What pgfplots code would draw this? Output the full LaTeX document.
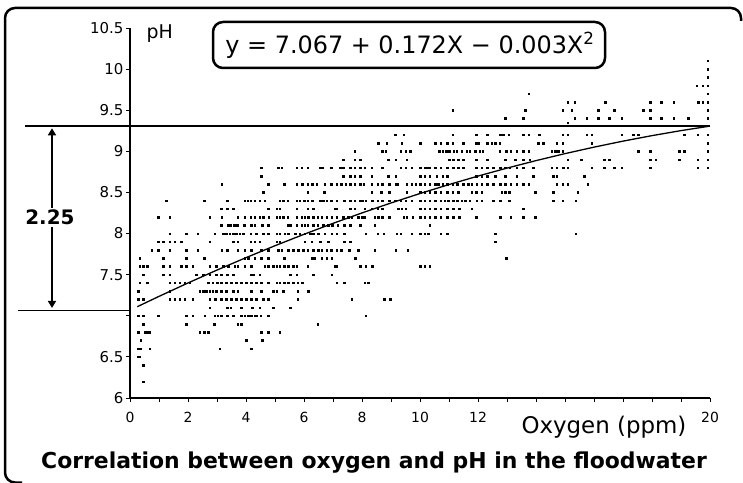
\documentclass[border=0pt]{standalone}
\usepackage{pgfplots}
\pgfplotsset{compat=1.18}
\usepackage{fontspec}
\setmainfont{DejaVu Sans}
\usetikzlibrary{arrows.meta}
\begin{document}
\begin{tikzpicture}
\useasboundingbox (0bp,0bp) rectangle (743bp,483bp);
\draw[line width=2.5bp, rounded corners=10bp] (22bp,0.5bp) -- (5bp,0.5bp) -- (5bp,475bp) -- (741bp,475bp) -- (741bp,462bp);
\begin{axis}[
  at={(130bp,85bp)}, anchor=south west,
  scale only axis, width=580bp, height=370bp,
  xmin=0, xmax=20, ymin=6, ymax=10.5,
  axis lines=left, axis line style={-, line width=1.2bp},
  clip=false,
  xtick={0,1,...,20},
  xticklabels={0,,2,,4,,6,,8,,10,,12,,,,,,,,20},
  ytick={6,6.5,7,7.5,8,8.5,9,9.5,10,10.5},
  yticklabels={6,6.5,,7.5,8,8.5,9,9.5,10,10.5},
  tick align=outside, major tick length=4bp,
  tick style={black, line width=0.8bp},
  yticklabel style={font=\fontsize{15}{15}\selectfont, xshift=1bp},
  xticklabel style={font=\fontsize{14}{14}\selectfont, yshift=-7bp},
]
\addplot[only marks, mark=square*, mark size=0.75bp, black] coordinates {
(4.53,8.8)(4.53,8.7)(3.17,8.6)(4.76,8.6)(4.59,8.5)
(1.25,8.4)(2.55,8.4)(3.36,8.4)(3.95,8.4)(4.05,8.4)(4.16,8.4)(4.30,8.4)(4.47,8.4)(4.64,8.4)
(3.15,8.3)(3.36,8.3)(3.55,8.3)(4.76,8.3)
(0.97,8.2)(1.37,8.2)(2.75,8.2)(3.17,8.2)(3.72,8.2)(3.95,8.2)(4.16,8.2)(4.30,8.2)(4.47,8.2)(4.59,8.2)(4.78,8.2)
(3.15,8.1)(3.38,8.1)(3.47,8.1)(3.59,8.1)(3.70,8.1)(3.93,8.1)(4.18,8.1)(4.30,8.1)(4.55,8.1)(4.76,8.1)
(1.37,8.0)(1.94,8.0)(2.34,8.0)(2.92,8.0)(3.21,8.0)(3.32,8.0)(3.44,8.0)(3.55,8.0)(3.67,8.0)(3.78,8.0)(3.90,8.0)(4.16,8.0)(4.36,8.0)(4.59,8.0)(4.76,8.0)
(0.97,7.9)(1.14,7.9)(1.37,7.9)(1.54,7.9)(1.77,7.9)(2.75,7.9)(3.55,7.9)(3.72,7.9)(4.16,7.9)(4.30,7.9)(4.47,7.9)
(0.74,7.8)(0.97,7.8)(1.37,7.8)(1.94,7.8)(2.34,7.8)(3.17,7.8)(3.36,7.8)(3.72,7.8)(3.95,7.8)(4.18,7.8)(4.53,7.8)(4.76,7.8)
(0.33,7.7)(1.14,7.7)(1.94,7.7)(2.55,7.7)(3.95,7.7)(4.07,7.7)(4.30,7.7)(4.53,7.7)(4.76,7.7)
(0.33,7.6)(0.45,7.6)(0.60,7.6)(1.14,7.6)(1.37,7.6)(1.77,7.6)(1.94,7.6)(2.17,7.6)(2.75,7.6)(2.98,7.6)(3.21,7.6)(3.38,7.6)(3.61,7.6)(3.72,7.6)(3.95,7.6)(4.18,7.6)(4.64,7.6)(4.76,7.6)(4.93,7.6)
(0.45,7.5)(1.14,7.5)(1.37,7.5)(2.29,7.5)(2.52,7.5)(2.75,7.5)(2.98,7.5)(3.15,7.5)(3.36,7.5)(3.55,7.5)(4.16,7.5)(4.24,7.5)(4.47,7.5)
(0.33,7.4)(0.60,7.4)(1.37,7.4)(1.54,7.4)(1.71,7.4)(1.89,7.4)(2.06,7.4)(2.69,7.4)(2.86,7.4)(3.01,7.4)(3.15,7.4)(3.32,7.4)(3.49,7.4)(3.67,7.4)(3.84,7.4)(4.01,7.4)(4.18,7.4)(4.36,7.4)(4.53,7.4)(4.76,7.4)
(0.28,7.3)(1.37,7.3)(2.40,7.3)(2.52,7.3)(2.63,7.3)(2.75,7.3)(2.86,7.3)(2.98,7.3)(3.15,7.3)(3.32,7.3)(3.55,7.3)(3.72,7.3)(4.18,7.3)(4.53,7.3)(4.93,7.3)
(0.28,7.2)(0.45,7.2)(1.37,7.2)(1.54,7.2)(1.71,7.2)(1.89,7.2)(2.17,7.2)(2.75,7.2)(2.94,7.2)(3.15,7.2)(3.32,7.2)(3.49,7.2)(3.67,7.2)(3.84,7.2)(4.01,7.2)(4.18,7.2)(4.36,7.2)(4.59,7.2)(4.76,7.2)
(2.75,7.1)(3.36,7.1)(3.47,7.1)(3.84,7.1)(4.21,7.1)(4.47,7.1)(4.93,7.1)
(0.28,7.0)(0.45,7.0)(0.97,7.0)(1.94,7.0)(2.17,7.0)(2.57,7.0)(2.92,7.0)(3.03,7.0)(3.15,7.0)(3.36,7.0)(3.55,7.0)(3.84,7.0)(3.95,7.0)(4.07,7.0)(4.18,7.0)(4.30,7.0)(4.36,7.0)(4.51,7.0)(4.76,7.0)
(0.45,6.9)(1.94,6.9)(2.90,6.9)(3.72,6.9)(3.84,6.9)
(0.28,6.8)(0.51,6.8)(0.60,6.8)(0.68,6.8)(2.40,6.8)(2.55,6.8)(2.69,6.8)(4.53,6.8)(4.76,6.8)
(0.37,6.7)(4.01,6.7)(4.55,6.7)
(0.28,6.6)(0.37,6.6)(0.68,6.6)(3.09,6.6)(4.18,6.6)
(0.28,6.5)(0.33,6.5)(0.45,6.4)(0.45,6.2)
(9.14,9.2)(9.43,9.2)(8.56,9.1)(8.85,9.1)(9.37,9.1)
(7.74,9.0)(8.70,9.0)(8.82,9.0)(9.34,9.0)(9.51,9.0)(9.66,9.0)
(7.36,8.9)(7.74,8.9)(7.93,8.9)(8.91,8.9)(9.16,8.9)(9.54,8.9)
(5.11,8.8)(5.23,8.8)(5.75,8.8)(5.92,8.8)(6.13,8.8)(6.55,8.8)(6.63,8.8)(6.93,8.8)(7.24,8.8)(7.36,8.8)(7.59,8.8)(7.74,8.8)(7.93,8.8)(8.10,8.8)(8.33,8.8)(8.70,8.8)(9.34,8.8)(9.51,8.8)(9.71,8.8)
(7.36,8.7)(7.59,8.7)(7.74,8.7)(7.93,8.7)(8.33,8.7)(8.91,8.7)(9.16,8.7)
(5.32,8.6)(5.75,8.6)(5.94,8.6)(6.13,8.6)(6.29,8.6)(6.44,8.6)(6.72,8.6)(6.93,8.6)(7.13,8.6)(7.28,8.6)(7.44,8.6)(7.59,8.6)(7.74,8.6)(7.93,8.6)(8.05,8.6)(8.33,8.6)(8.54,8.6)(8.70,8.6)(8.93,8.6)(9.16,8.6)(9.23,8.6)(9.54,8.6)(9.71,8.6)(9.85,8.6)
(6.13,8.5)(6.70,8.5)(8.33,8.5)(8.66,8.5)(8.93,8.5)(9.54,8.5)
(5.17,8.4)(5.29,8.4)(5.44,8.4)(5.75,8.4)(5.86,8.4)(6.01,8.4)(6.13,8.4)(6.29,8.4)(6.55,8.4)(6.67,8.4)(6.78,8.4)(6.93,8.4)(7.13,8.4)(7.39,8.4)(7.59,8.4)(7.74,8.4)(7.93,8.4)(8.01,8.4)(8.13,8.4)(8.36,8.4)(8.54,8.4)(8.70,8.4)(8.93,8.4)(9.14,8.4)(9.34,8.4)(9.51,8.4)(9.71,8.4)
(5.06,8.3)(5.17,8.3)(5.75,8.3)(6.13,8.3)(6.32,8.3)(7.07,8.3)(7.13,8.3)(7.59,8.3)(7.74,8.3)(8.10,8.3)(8.33,8.3)(8.54,8.3)(8.70,8.3)(9.25,8.3)(9.37,8.3)(9.51,8.3)
(5.06,8.2)(5.17,8.2)(5.29,8.2)(5.44,8.2)(5.75,8.2)(5.92,8.2)(6.03,8.2)(6.15,8.2)(6.32,8.2)(6.47,8.2)(6.61,8.2)(6.78,8.2)(6.95,8.2)(7.13,8.2)(7.36,8.2)(7.53,8.2)(7.64,8.2)(7.87,8.2)(8.01,8.2)(8.10,8.2)(8.43,8.2)(8.56,8.2)(8.70,8.2)(8.93,8.2)(9.43,8.2)(9.54,8.2)(9.74,8.2)
(5.44,8.1)(5.52,8.1)(5.75,8.1)(5.92,8.1)(6.03,8.1)(6.13,8.1)(6.32,8.1)(6.47,8.1)(6.67,8.1)(6.84,8.1)(6.98,8.1)(7.16,8.1)(7.39,8.1)(7.59,8.1)(7.93,8.1)(8.43,8.1)
(5.06,8.0)(5.17,8.0)(5.34,8.0)(5.46,8.0)(5.69,8.0)(5.86,8.0)(6.03,8.0)(6.21,8.0)(6.32,8.0)(6.49,8.0)(6.72,8.0)(6.95,8.0)(7.13,8.0)(7.39,8.0)(8.13,8.0)(8.54,8.0)(8.74,8.0)(9.20,8.0)(9.34,8.0)(9.71,8.0)
(5.06,7.9)(5.17,7.9)(6.03,7.9)(6.26,7.9)(6.55,7.9)(6.84,7.9)(7.39,7.9)(7.59,7.9)
(5.11,7.8)(5.23,7.8)(5.46,7.8)(5.63,7.8)(5.80,7.8)(5.98,7.8)(6.13,7.8)(6.32,7.8)(6.49,7.8)(6.61,7.8)(6.78,7.8)(6.93,7.8)(7.13,7.8)(7.28,7.8)(7.55,7.8)(7.87,7.8)(8.43,7.8)(9.16,7.8)(9.57,7.8)
(5.32,7.7)(6.26,7.7)(6.36,7.7)(6.61,7.7)(6.78,7.7)(6.95,7.7)(7.76,7.7)
(5.06,7.6)(5.17,7.6)(5.32,7.6)(5.46,7.6)(5.63,7.6)(5.75,7.6)(6.13,7.6)(7.07,7.6)(7.13,7.6)(7.93,7.6)(8.13,7.6)(8.36,7.6)
(5.52,7.5)(5.75,7.5)(6.32,7.5)(6.95,7.5)
(5.06,7.4)(5.17,7.4)(5.32,7.4)(5.46,7.4)(5.63,7.4)(5.78,7.4)(5.94,7.4)(7.13,7.4)(7.39,7.4)(8.10,7.4)(8.22,7.4)
(5.06,7.3)(5.29,7.3)(5.78,7.3)(6.15,7.3)
(5.78,7.2)(7.64,7.2)(8.77,7.2)(8.97,7.2)(5.52,7.1)(8.13,7.0)(6.47,6.9)(5.17,6.8)
(13.74,9.7)(11.13,9.5)(13.62,9.5)(14.92,9.5)(12.93,9.4)(13.56,9.4)
(11.13,9.2)(11.93,9.2)(12.32,9.2)(12.76,9.2)(12.87,9.2)(13.05,9.2)(13.56,9.2)(13.74,9.2)(14.11,9.2)(14.92,9.2)
(10.0,9.1)(10.52,9.1)(10.71,9.1)(10.94,9.1)(11.13,9.1)(11.49,9.1)(11.93,9.1)(12.01,9.1)(12.32,9.1)(12.47,9.1)(12.59,9.1)(12.74,9.1)(14.08,9.1)(14.25,9.1)(14.71,9.1)(14.92,9.1)
(10.67,9.0)(10.78,9.0)(10.90,9.0)(11.01,9.0)(11.17,9.0)(11.26,9.0)(11.44,9.0)(11.61,9.0)(11.72,9.0)(11.90,9.0)(12.05,9.0)(12.16,9.0)(12.74,9.0)(12.97,9.0)(13.13,9.0)(13.33,9.0)(13.56,9.0)(13.74,9.0)(14.54,9.0)(14.66,9.0)(14.77,9.0)(14.92,9.0)
(11.01,8.9)(11.15,8.9)(11.32,8.9)(11.49,8.9)(11.93,8.9)(12.32,8.9)(12.93,8.9)(13.28,8.9)(13.56,8.9)(13.79,8.9)
(10.0,8.8)(10.17,8.8)(10.25,8.8)(10.34,8.8)(10.52,8.8)(10.71,8.8)(10.94,8.8)(11.15,8.8)(11.32,8.8)(11.49,8.8)(11.93,8.8)(12.13,8.8)(12.32,8.8)(12.53,8.8)(12.76,8.8)(12.93,8.8)(13.10,8.8)(13.33,8.8)(13.56,8.8)(13.91,8.8)(14.54,8.8)(14.71,8.8)(14.94,8.8)
(10.0,8.7)(10.17,8.7)(10.34,8.7)(10.57,8.7)(10.78,8.7)(10.94,8.7)(11.93,8.7)(12.13,8.7)(12.32,8.7)(12.59,8.7)(12.93,8.7)(13.33,8.7)(13.91,8.7)(14.60,8.7)(14.71,8.7)
(10.0,8.6)(10.17,8.6)(10.34,8.6)(10.52,8.6)(10.63,8.6)(10.78,8.6)(10.94,8.6)(11.13,8.6)(11.29,8.6)(11.49,8.6)(11.67,8.6)(11.78,8.6)(11.95,8.6)(12.13,8.6)(12.32,8.6)(12.53,8.6)(12.76,8.6)(12.93,8.6)(13.13,8.6)(13.33,8.6)(13.56,8.6)(13.74,8.6)(14.71,8.6)(14.92,8.6)
(10.0,8.5)(10.17,8.5)(10.34,8.5)(10.52,8.5)(10.71,8.5)(10.94,8.5)(11.13,8.5)(11.32,8.5)(11.78,8.5)(11.93,8.5)(12.13,8.5)(12.82,8.5)(12.93,8.5)(13.08,8.5)(13.97,8.5)(14.60,8.5)
(10.0,8.4)(10.17,8.4)(10.34,8.4)(10.52,8.4)(10.71,8.4)(10.86,8.4)(10.98,8.4)(11.15,8.4)(11.29,8.4)(11.44,8.4)(11.55,8.4)(11.72,8.4)(11.95,8.4)(12.13,8.4)(12.53,8.4)(12.76,8.4)(13.08,8.4)(14.60,8.4)(14.92,8.4)
(10.0,8.3)(10.17,8.3)(10.34,8.3)(10.52,8.3)(10.71,8.3)(10.94,8.3)(11.15,8.3)(11.36,8.3)(11.78,8.3)(13.56,8.3)
(10.0,8.2)(10.17,8.2)(10.34,8.2)(10.52,8.2)(10.71,8.2)(10.94,8.2)(11.15,8.2)(11.36,8.2)(11.93,8.2)(12.76,8.2)(13.13,8.2)(13.56,8.2)(13.97,8.2)
(10.34,8.1)(10.0,8.0)(10.17,8.0)(10.29,8.0)(10.71,8.0)(10.94,8.0)(12.59,8.0)(12.59,7.9)(12.97,7.7)(10.0,7.6)(10.17,7.6)(10.34,7.6)
(19.92,10.1)(19.92,10.0)(19.92,9.9)(19.54,9.8)(19.74,9.8)(19.92,9.8)(19.92,9.7)
(15.09,9.6)(15.34,9.6)(16.38,9.6)(17.93,9.6)(18.31,9.6)(18.74,9.6)(19.60,9.6)(19.74,9.6)(19.92,9.6)
(15.23,9.5)(16.15,9.5)(16.70,9.5)(17.70,9.5)(17.93,9.5)(19.92,9.5)
(15.34,9.4)(15.75,9.4)(16.15,9.4)(16.52,9.4)(16.95,9.4)(17.93,9.4)(18.31,9.4)(18.74,9.4)(19.25,9.4)(19.92,9.4)(15.09,9.35)
(15.09,9.2)(15.75,9.2)(15.92,9.2)(16.95,9.2)(17.36,9.2)(17.53,9.2)(19.11,9.2)(19.57,9.2)(19.92,9.2)
(15.92,9.1)(19.92,9.1)(17.53,9.0)(17.93,9.0)(18.93,9.0)(19.11,9.0)(19.92,9.0)
(15.09,8.9)(15.55,8.9)(16.36,8.9)(16.52,8.9)(17.93,8.9)(18.13,8.9)(18.93,8.9)(19.57,8.9)(19.92,8.9)
(15.09,8.8)(15.92,8.8)(16.36,8.8)(16.70,8.8)(16.95,8.8)(17.93,8.8)(19.57,8.8)(19.92,8.8)
(15.67,8.7)(15.09,8.6)(15.78,8.6)(15.44,8.5)(15.37,8.4)(15.37,8.0)
};
\addplot[black, line width=1.3bp] coordinates {
(0.25,7.110)(1,7.236)(2,7.399)(3,7.556)(4,7.707)(5,7.852)(6,7.991)(7,8.124)(8,8.251)(9,8.372)(10,8.487)
(11,8.596)(12,8.699)(13,8.796)(14,8.887)(15,8.972)(16,9.051)(17,9.124)(18,9.191)(19,9.252)(20,9.307)
};
\draw[line width=1.3bp] (axis cs:-3.62,9.307) -- (axis cs:20,9.307);
\draw[line width=1.3bp] (axis cs:-3.86,7.067) -- (axis cs:0,7.067);
\draw[line width=1.6bp, {Triangle[width=8bp,length=7bp]}-{Triangle[width=8bp,length=7bp]}] (axis cs:-2.69,9.28) -- (axis cs:-2.69,7.095);
\node[fill=white, inner sep=2bp, font=\bfseries\fontsize{20}{20}\selectfont] at (axis cs:-2.76,8.195) {2.25};
\end{axis}
\node[anchor=base west, font=\fontsize{19}{19}\selectfont] at (143bp,444bp) {pH};
\draw[line width=2.5bp, rounded corners=10bp] (213bp,415bp) rectangle (605bp,461bp);
\node[font=\fontsize{24}{24}\selectfont] at (410bp,438bp) {y = 7.067 + 0.172X − 0.003X\textsuperscript{2}};
\node[anchor=base west, font=\fontsize{23}{23}\selectfont] at (518bp,49bp) {Oxygen (ppm)};
\node[anchor=base, font=\bfseries\fontsize{22}{22}\selectfont] at (374bp,15bp) {Correlation between oxygen and pH in the floodwater};
\end{tikzpicture}
\end{document}
